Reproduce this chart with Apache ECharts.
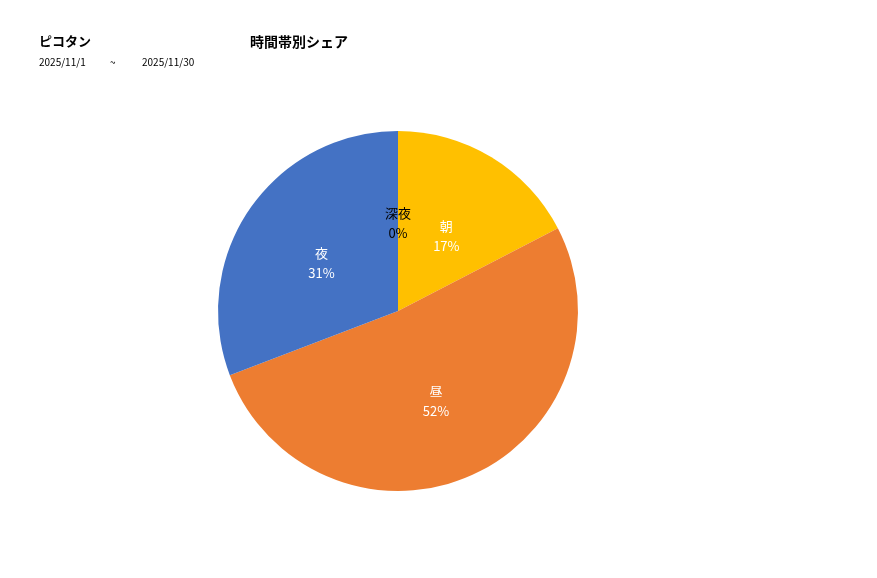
<!DOCTYPE html>
<html><head><meta charset="utf-8">
<script src="https://cdn.jsdelivr.net/npm/echarts@6/dist/echarts.min.js"></script>
<style>html,body{margin:0;padding:0;background:#fff}#c{width:877px;height:578px}</style>
</head><body><div id="c"></div>
<script>
const categories = ['朝', '昼', '夜', '深夜'];
const values = [17.4, 51.8, 30.8, 0];
const colors = ['#FFC000', '#ED7D31', '#4472C4', '#A5A5A5'];
const labelColors = ['#ffffff', '#ffffff', '#ffffff', '#000000'];
const FONT = '"Noto Sans CJK JP", "Noto Sans", sans-serif';
const chart = echarts.init(document.getElementById('c'));
chart.setOption({
  backgroundColor: '#ffffff',
  animation: false,
  title: [
    {text: 'ピコタン', left: 34, top: 30, textStyle: {fontFamily: FONT, fontSize: 13, fontWeight: 'bold', color: '#000'}},
    {text: '時間帯別シェア', left: 245, top: 30, textStyle: {fontFamily: FONT, fontSize: 14, fontWeight: 'bold', color: '#000'}},
    {text: '2025/11/1', left: 34, top: 52, textStyle: {fontFamily: FONT, fontSize: 10, fontWeight: 'normal', color: '#000'}},
    {text: '~', left: 105, top: 52, textStyle: {fontFamily: FONT, fontSize: 10, fontWeight: 'normal', color: '#000'}},
    {text: '2025/11/30', left: 137, top: 52, textStyle: {fontFamily: FONT, fontSize: 10, fontWeight: 'normal', color: '#000'}}
  ],
  series: [{
    type: 'pie',
    center: [398, 311],
    radius: [0, 180],
    startAngle: 90,
    clockwise: true,
    percentPrecision: 0,
    avoidLabelOverlap: false,
    minShowLabelAngle: 0,
    stillShowZeroSum: true,
    label: {
      show: true, position: 'inside', formatter: '{b}\n{d}%',
      fontFamily: FONT, fontSize: 13, lineHeight: 20, offset: [0, 5]
    },
    labelLine: {show: false},
    itemStyle: {borderWidth: 0},
    emphasis: {disabled: true},
    data: categories.map((c, i) => ({
      name: c, value: values[i],
      itemStyle: {color: colors[i]},
      label: {color: labelColors[i]}
    }))
  }]
});
</script></body></html>
